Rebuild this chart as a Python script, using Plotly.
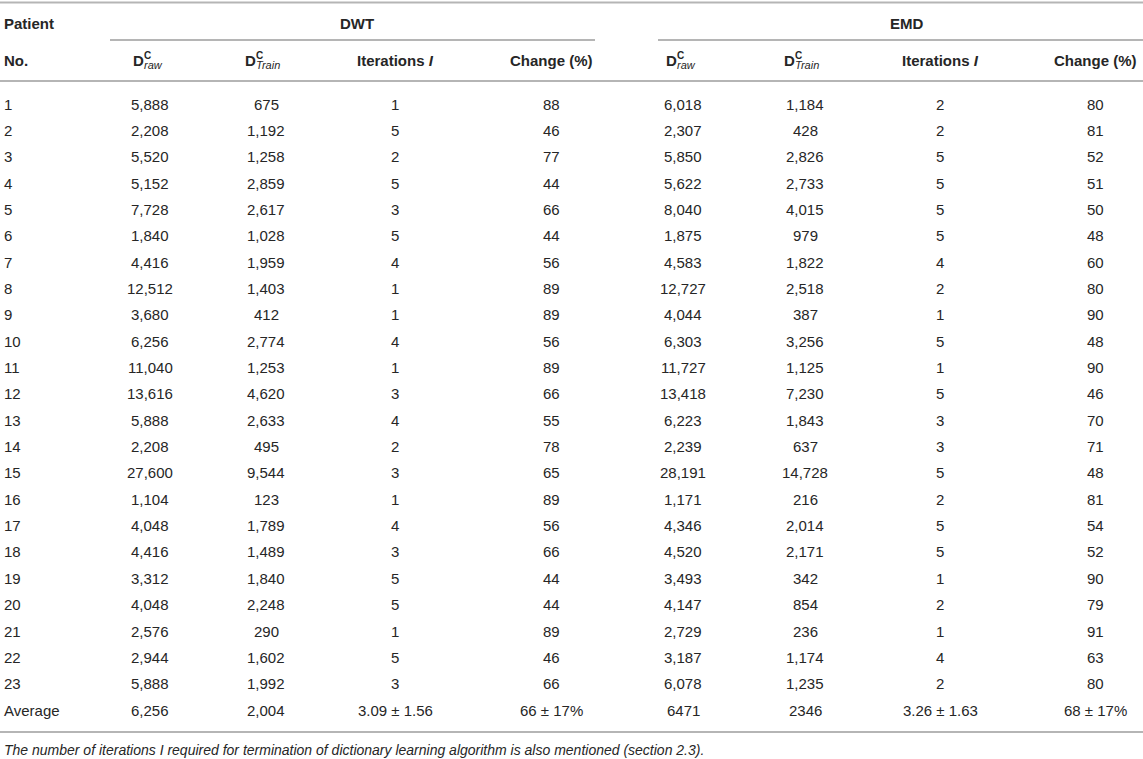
import plotly.graph_objects as go

# ---------------- data ----------------
patients = [str(i) for i in range(1, 24)]
dwt_raw = [5888, 2208, 5520, 5152, 7728, 1840, 4416, 12512, 3680, 6256, 11040, 13616,
           5888, 2208, 27600, 1104, 4048, 4416, 3312, 4048, 2576, 2944, 5888]
dwt_train = [675, 1192, 1258, 2859, 2617, 1028, 1959, 1403, 412, 2774, 1253, 4620,
             2633, 495, 9544, 123, 1789, 1489, 1840, 2248, 290, 1602, 1992]
dwt_iter = [1, 5, 2, 5, 3, 5, 4, 1, 1, 4, 1, 3, 4, 2, 3, 1, 4, 3, 5, 5, 1, 5, 3]
dwt_change = [88, 46, 77, 44, 66, 44, 56, 89, 89, 56, 89, 66, 55, 78, 65, 89, 56, 66,
              44, 44, 89, 46, 66]
emd_raw = [6018, 2307, 5850, 5622, 8040, 1875, 4583, 12727, 4044, 6303, 11727, 13418,
           6223, 2239, 28191, 1171, 4346, 4520, 3493, 4147, 2729, 3187, 6078]
emd_train = [1184, 428, 2826, 2733, 4015, 979, 1822, 2518, 387, 3256, 1125, 7230,
             1843, 637, 14728, 216, 2014, 2171, 342, 854, 236, 1174, 1235]
emd_iter = [2, 2, 5, 5, 5, 5, 4, 2, 1, 5, 1, 5, 3, 3, 5, 2, 5, 5, 1, 2, 1, 4, 2]
emd_change = [80, 81, 52, 51, 50, 48, 60, 80, 90, 48, 90, 46, 70, 71, 48, 81, 54, 52,
              90, 79, 91, 63, 80]
avg_label = "Average"
dwt_avg = ["6,256", "2,004", "3.09 ± 1.56", "66 ± 17%"]
emd_avg = ["6471", "2346", "3.26 ± 1.63", "68 ± 17%"]
group_labels = ["DWT", "EMD"]
caption = ("The number of iterations I required for termination of dictionary "
           "learning algorithm is also mentioned (section 2.3).")

# ---------------- layout constants ----------------
W, H = 1143, 759
FONT = "Liberation Sans, Arial, Helvetica, sans-serif"
TXT = "#262626"
LINE = "#b5b5b5"
FS = 15
col_dwt = [150, 266, 395, 551]
col_emd = [683, 805, 940, 1095]
x_patient = 3
y_top_line = 2.5
y_group = 23
y_group_line = 40
y_sub = 60
y_head_line = 81
y_row0 = 104
row_h = 26.35
y_bottom_line = 732
y_caption = 750

ann = []


def text(x, y, s, anchor="center", size=FS, bold=False, italic=False):
    if bold:
        s = f"<b>{s}</b>"
    if italic:
        s = f"<i>{s}</i>"
    ann.append(dict(x=x, y=y, xref="x", yref="y", text=s, showarrow=False,
                    xanchor=anchor, yanchor="middle", borderpad=0,
                    font=dict(family=FONT, size=size, color=TXT)))


def dsym(x0, sub):
    # "D" with stacked superscript C and italic subscript
    text(x0, y_sub, "D", anchor="right", bold=True)
    text(x0 - 2, y_sub - 5, "C", anchor="left", size=10, bold=True)
    text(x0 - 2, y_sub + 5, sub, anchor="left", size=11, italic=True)


# header
text(x_patient, y_group, "Patient", anchor="left", bold=True)
text(x_patient, y_sub, "No.", anchor="left", bold=True)
text(357, y_group, group_labels[0], bold=True)
text(907, y_group, group_labels[1], bold=True)
for cols in (col_dwt, col_emd):
    dsym(cols[0] - 5, "raw")
    dsym(cols[1] - 9, "Train")
    text(cols[2], y_sub, "Iterations <i>I</i>", bold=True)
    text(cols[3], y_sub, "Change (%)", bold=True)

# body
for i, p in enumerate(patients):
    y = y_row0 + i * row_h
    text(x_patient, y, p, anchor="left")
    for cols, vals in ((col_dwt, (dwt_raw, dwt_train, dwt_iter, dwt_change)),
                       (col_emd, (emd_raw, emd_train, emd_iter, emd_change))):
        for c, v in zip(cols, vals):
            text(c, y, f"{v[i]:,}")

y_avg = y_row0 + len(patients) * row_h
text(x_patient, y_avg, avg_label, anchor="left")
for c, s in zip(col_dwt, dwt_avg):
    text(c, y_avg, s)
for c, s in zip(col_emd, emd_avg):
    text(c, y_avg, s)

text(x_patient, y_caption, caption, anchor="left", size=14, italic=True)

shapes = []
for (x0, x1, y) in [(0, W, y_top_line), (110, 595, y_group_line),
                    (658, W, y_group_line), (0, W, y_head_line),
                    (0, W, y_bottom_line)]:
    shapes.append(dict(type="line", xref="x", yref="y", x0=x0, x1=x1, y0=y, y1=y,
                       line=dict(color=LINE, width=2)))

fig = go.Figure()
fig.update_layout(
    width=W, height=H, margin=dict(l=0, r=0, t=0, b=0),
    paper_bgcolor="white", plot_bgcolor="white",
    xaxis=dict(range=[0, W], visible=False, fixedrange=True),
    yaxis=dict(range=[H, 0], visible=False, fixedrange=True),
    annotations=ann, shapes=shapes, showlegend=False,
)
fig.write_html("out.html", config={"displayModeBar": False},
               post_script="document.body.style.margin='0';"
                           "document.body.style.overflow='hidden';")
